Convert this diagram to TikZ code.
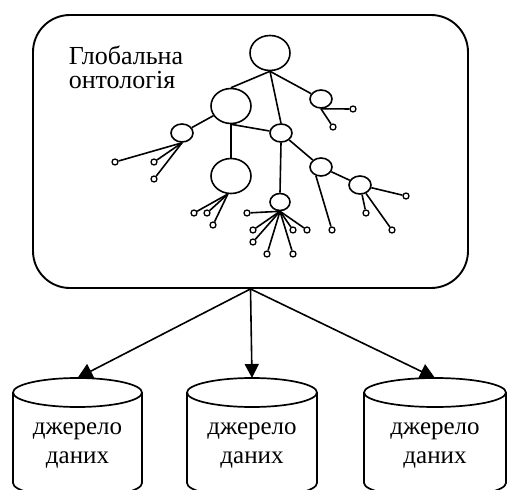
\documentclass[tikz,border=0pt]{standalone}
\usepackage{fontspec}
\setmainfont{Liberation Serif}
\usetikzlibrary{shapes.geometric,arrows.meta}

\begin{document}
\begin{tikzpicture}[x=1pt,y=-1pt,line width=1.6pt,
  big/.style={draw,ellipse,inner sep=0pt,minimum width=40pt,minimum height=35pt},
  small/.style={draw,ellipse,inner sep=0pt,minimum width=22pt,minimum height=18pt},
  leaf/.style={draw,circle,inner sep=0pt,minimum size=6pt,line width=1.3pt},
  storetext/.style={align=center,inner sep=0pt,anchor=base,font=\rmfamily\fontsize{25}{29}\selectfont}]
 \newcommand{\dbstore}[3]{%
  \coordinate (#1) at(#2,378);
  \draw[line width=1.7pt] (#2,392.5) ellipse[x radius=#3, y radius=14.5];
  \draw[line width=1.7pt] (#2-#3,392.5) -- (#2-#3,483) arc[start angle=180, end angle=0, x radius=#3, y radius=14.5] -- (#2+#3,392.5);
 }
 \useasboundingbox (0,0) rectangle (507,490);
 \clip (0,0) rectangle (507,490);

 \node[draw,rounded corners=37pt,line width=1.9pt,minimum width=435pt,minimum height=273pt] (O) at(250.5,151.5) {};
 \node[anchor=base west,inner sep=0pt,align=left,font=\rmfamily\fontsize{26}{24}\selectfont] (T) at(68,88) {Глобальна\\онтологія};

 \node[big] (R) at(270,53) {};
 \node[big] (A) at(231,106) {};
 \node[big] (E) at(231,176) {};
 \node[small] (B) at(321,99) {};
 \node[small] (C) at(281,133) {};
 \node[small] (D) at(182,133) {};
 \node[small] (F) at(321,167) {};
 \node[small] (G) at(360,185) {};
 \node[small,minimum width=20pt,minimum height=17pt] (H) at(280,202) {};

 \draw (R.south) -- (A.north);
 \draw (R.south) -- (C.north);
 \draw (R.south) -- (B);
 \draw (A) -- (D);
 \draw (A.south) -- (E.north);
 \draw (A.south) -- (C);
 \draw (C.south) -- (H.north);
 \draw (C) -- (F);
 \draw (F) -- (G);

 % leaves
 \node[leaf] (b1) at(353,109) {};
 \node[leaf] (b2) at(333,127) {};
 \node[leaf] (d1) at(115,162) {};
 \node[leaf] (d2) at(154,162) {};
 \node[leaf] (d3) at(154,179) {};
 \node[leaf] (e1) at(194,213) {};
 \node[leaf] (e2) at(207,213) {};
 \node[leaf] (e3) at(213,225) {};
 \node[leaf] (f1) at(332,230) {};
 \node[leaf] (g1) at(406,196) {};
 \node[leaf] (g2) at(366,213) {};
 \node[leaf] (g3) at(392,230) {};
 \node[leaf] (h1) at(247,213) {};
 \node[leaf] (h2) at(253,230) {};
 \node[leaf] (h3) at(253,242) {};
 \node[leaf] (h4) at(267,254) {};
 \node[leaf] (h5) at(293,230) {};
 \node[leaf] (h6) at(307,230) {};
 \node[leaf] (h7) at(293,254) {};

 \draw (B.south) -- (b1);
 \draw (B.south) -- (b2);
 \draw (D.south) -- (d1);
 \draw (D.south) -- (d2);
 \draw (D.south) -- (d3);
 \draw (E.-100) -- (e1);
 \draw (E.-100) -- (e2);
 \draw (E.-100) -- (e3);
 \draw (F.240) -- (f1);
 \draw (G) -- (g1);
 \draw (G) -- (g2);
 \draw (G) -- (g3);
 \draw (H.south) -- (h1);
 \draw (H.south) -- (h2);
 \draw (H.south) -- (h3);
 \draw (H.south) -- (h4);
 \draw (H.south) -- (h5);
 \draw (H.south) -- (h6);
 \draw (H.south) -- (h7);

 \dbstore{S1}{77.5}{64.5}
 \dbstore{S2}{252}{65}
 \dbstore{S3}{435}{71}
 \node[storetext] (L1) at(77.5,463) {джерело\\даних};
 \node[storetext] (L2) at(252,463) {джерело\\даних};
 \node[storetext] (L3) at(435,463) {джерело\\даних};

 \draw[-{Triangle[length=15pt,width=16pt]}] (O.south) -- (S1);
 \draw[-{Triangle[length=14pt,width=14pt]}] (O.south) -- (S2);
 \draw[-{Triangle[length=15pt,width=16pt]}] (O.south) -- (S3);

\end{tikzpicture}
\end{document}
